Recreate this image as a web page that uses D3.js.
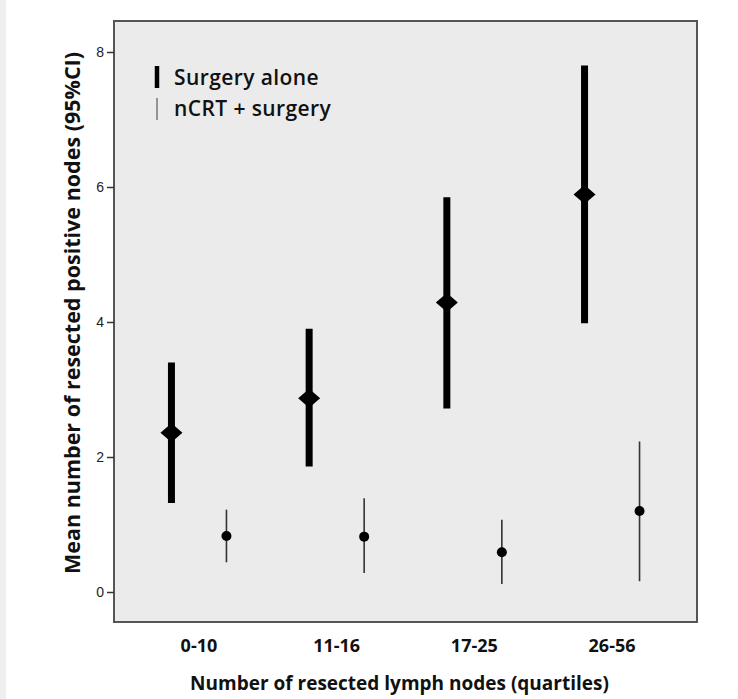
<!DOCTYPE html>
<html>
<head>
<meta charset="utf-8">
<script src="https://cdn.jsdelivr.net/npm/d3@7"></script>
<style>
  body { margin: 0; background: #fff; }
  svg { display: block; }
</style>
</head>
<body>
<div id="chart"></div>
<script>
// Data
const categories = ["0-10", "11-16", "17-25", "26-56"];
const surgeryMean = [2.36, 2.87, 4.29, 5.89];
const surgeryLow = [1.32, 1.86, 2.72, 3.98];
const surgeryHigh = [3.40, 3.90, 5.85, 7.80];
const ncrtMean = [0.83, 0.82, 0.59, 1.20];
const ncrtLow = [0.44, 0.28, 0.12, 0.16];
const ncrtHigh = [1.22, 1.39, 1.07, 2.23];
const yTicks = [0, 2, 4, 6, 8];

const width = 738, height = 699;
const frame = { left: 114, right: 697, top: 21, bottom: 622 };
const font = "Open Sans, sans-serif";

const svg = d3.select("#chart").append("svg")
  .attr("width", width).attr("height", height);

// faint strip on the left edge of the page
svg.append("rect").attr("x", 0).attr("y", 0).attr("width", 6).attr("height", height)
  .attr("fill", "#efefef");

// Plot frame
svg.append("rect")
  .attr("x", frame.left).attr("y", frame.top)
  .attr("width", frame.right - frame.left).attr("height", frame.bottom - frame.top)
  .attr("fill", "#ebebeb")
  .attr("stroke", "#555").attr("stroke-width", 2);

const x = d3.scalePoint().domain(categories)
  .range([frame.left, frame.right]).padding(0.617);
const y = d3.scaleLinear().domain([0, 8]).range([592, 52]);
const offset = 27.5;

// Y axis
const yAxis = svg.append("g")
  .attr("transform", `translate(${frame.left},0)`)
  .call(d3.axisLeft(y).tickValues(yTicks).tickSize(7).tickPadding(3).tickFormat(d3.format("d")));
yAxis.select(".domain").remove();
yAxis.selectAll("line").attr("stroke", "#333").attr("stroke-width", 1.5);
yAxis.selectAll("text")
  .attr("font-family", "Liberation Sans, Arial, sans-serif")
  .attr("font-size", 14).attr("fill", "#222");

// X category labels
svg.append("g").selectAll("text").data(categories).enter().append("text")
  .attr("x", (d) => x(d)).attr("y", 652)
  .attr("text-anchor", "middle")
  .attr("font-family", font).attr("font-weight", "bold")
  .attr("font-size", 18).attr("fill", "#111")
  .text((d) => d);

// Axis titles
svg.append("text")
  .attr("x", (frame.left + frame.right) / 2 - 6).attr("y", 690)
  .attr("text-anchor", "middle")
  .attr("font-family", font).attr("font-weight", "bold")
  .attr("font-size", 19).attr("fill", "#111")
  .text("Number of resected lymph nodes (quartiles)");

svg.append("text")
  .attr("transform", `translate(80,${(52 + 592) / 2 - 9}) rotate(-90)`)
  .attr("text-anchor", "middle")
  .attr("font-family", font).attr("font-weight", "bold")
  .attr("font-size", 21.5).attr("fill", "#111")
  .text("Mean number of resected positive nodes (95%CI)");

// Surgery alone: thick bars with diamonds
const surg = svg.append("g").selectAll("g").data(categories).enter().append("g");
surg.append("line")
  .attr("x1", (d) => x(d) - offset).attr("x2", (d) => x(d) - offset)
  .attr("y1", (d, i) => y(surgeryHigh[i])).attr("y2", (d, i) => y(surgeryLow[i]))
  .attr("stroke", "#000").attr("stroke-width", 7);
surg.append("path")
  .attr("transform", (d, i) => `translate(${x(d) - offset},${y(surgeryMean[i])})`)
  .attr("d", "M-11,0 L0,-9.5 L11,0 L0,9.5 Z")
  .attr("fill", "#000");

// nCRT + surgery: thin bars with dots
const ncrt = svg.append("g").selectAll("g").data(categories).enter().append("g");
ncrt.append("line")
  .attr("x1", (d) => x(d) + offset).attr("x2", (d) => x(d) + offset)
  .attr("y1", (d, i) => y(ncrtHigh[i])).attr("y2", (d, i) => y(ncrtLow[i]))
  .attr("stroke", "#333").attr("stroke-width", 1.6);
ncrt.append("circle")
  .attr("cx", (d) => x(d) + offset).attr("cy", (d, i) => y(ncrtMean[i]))
  .attr("r", 5).attr("fill", "#000");

// Legend
const legend = svg.append("g");
legend.append("line").attr("x1", 157).attr("x2", 157).attr("y1", 66).attr("y2", 88)
  .attr("stroke", "#000").attr("stroke-width", 4.5);
legend.append("line").attr("x1", 157).attr("x2", 157).attr("y1", 98).attr("y2", 120)
  .attr("stroke", "#777").attr("stroke-width", 1.5);
legend.append("text").attr("x", 174).attr("y", 85)
  .attr("font-family", font).attr("font-weight", 600).attr("font-size", 21)
  .attr("letter-spacing", 0.4).attr("fill", "#111")
  .text("Surgery alone");
legend.append("text").attr("x", 174).attr("y", 116)
  .attr("font-family", font).attr("font-weight", 600).attr("font-size", 21)
  .attr("letter-spacing", 0.4).attr("fill", "#111")
  .text("nCRT + surgery");
</script>
</body>
</html>
